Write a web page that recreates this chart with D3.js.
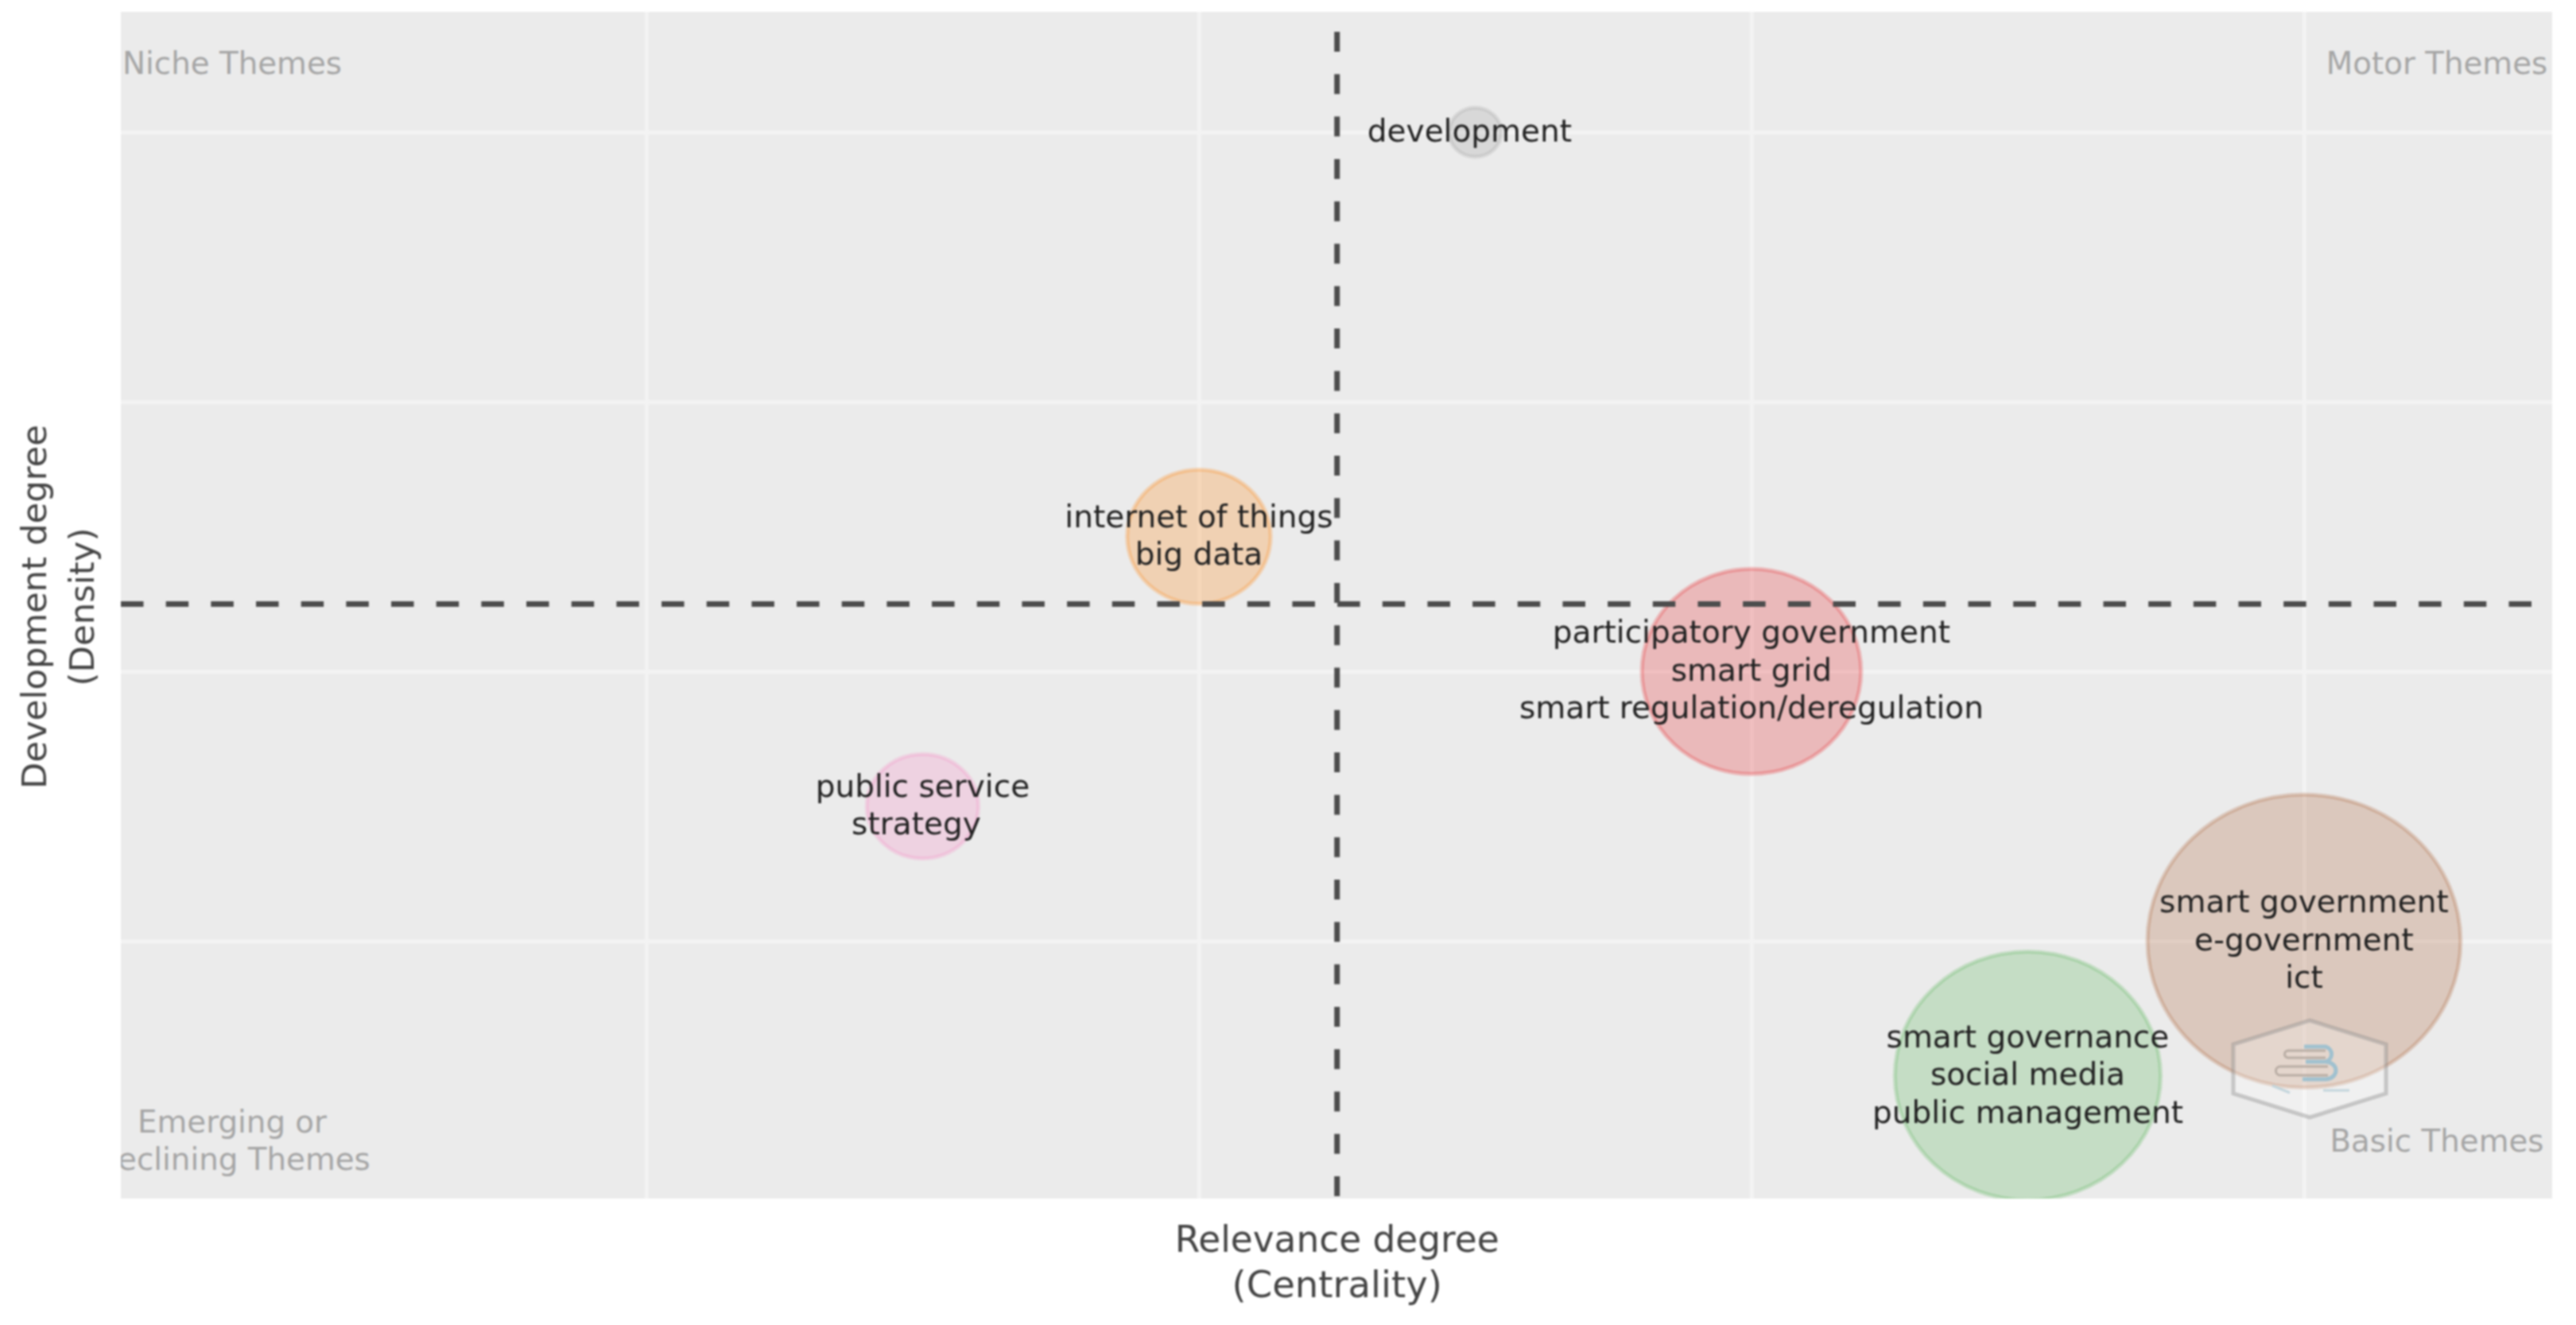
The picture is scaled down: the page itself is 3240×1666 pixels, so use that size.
<!DOCTYPE html>
<html>
<head>
<meta charset="utf-8">
<script src="https://cdn.jsdelivr.net/npm/d3@7"></script>
<style>
  html, body { margin: 0; padding: 0; background: #fff; }
  text { font-family: "DejaVu Sans", sans-serif; }
  svg { filter: blur(1px); }
</style>
</head>
<body>
<div id="chart"></div>
<script>
// cluster ranks
const themes = [
  ['public service', 'strategy'],
  ['internet of things', 'big data'],
  ['development'],
  ['participatory government', 'smart grid', 'smart regulation/deregulation'],
  ['smart governance', 'social media', 'public management'],
  ['smart government', 'e-government', 'ict']
];
const centrality = [1, 2, 3, 4, 5, 6];
const density = [3, 5, 8, 4, 1, 2];
const freq = [12.7, 21, 2.8, 49, 72, 100];
const clusterColors = ['#f781bf', '#ff7f00', '#999999', '#e41a1c', '#4daf4a', '#a65628'];

const xTicks = [0, 2, 4, 6];
const yTicks = [2, 4, 6, 8];
const meanCentrality = 2.5;
const meanDensity = 4.5;

const width = 3240;
const height = 1666;
const plot = { left: 152, right: 3210, top: 15, bottom: 1507 };

const x = d3.scaleLinear().domain([-1.902, 6.898]).range([plot.left, plot.right]);
const y = d3.scaleLinear().domain([0.09, 8.893]).range([plot.bottom, plot.top]);
const r = d3.scaleSqrt().domain([0, 100]).range([0, 197]);

const svg = d3.select('#chart').append('svg')
  .attr('width', width)
  .attr('height', height)
  .style('display', 'block');

const defs = svg.append('defs');
defs.append('clipPath').attr('id', 'plot-clip')
  .append('rect')
  .attr('x', plot.left)
  .attr('y', plot.top)
  .attr('width', plot.right - plot.left)
  .attr('height', plot.bottom - plot.top);
// the source picture is cropped just under the x title
defs.append('clipPath').attr('id', 'page-clip')
  .append('rect')
  .attr('width', width)
  .attr('height', 1642);

svg.append('rect')
  .attr('x', plot.left)
  .attr('y', plot.top)
  .attr('width', plot.right - plot.left)
  .attr('height', plot.bottom - plot.top)
  .attr('fill', '#ebebeb');

const grid = svg.append('g');
const xAxis = d3.axisBottom(x).tickValues(xTicks).tickSize(plot.top - plot.bottom).tickFormat('');
const yAxis = d3.axisLeft(y).tickValues(yTicks).tickSize(plot.left - plot.right).tickFormat('');
grid.append('g').attr('transform', `translate(0,${plot.bottom})`).call(xAxis);
grid.append('g').attr('transform', `translate(${plot.left},0)`).call(yAxis);
grid.selectAll('.domain').remove();
grid.selectAll('line').attr('stroke', '#f3f3f3').attr('stroke-width', 5);

const inner = svg.append('g').attr('clip-path', 'url(#plot-clip)');

// the source image is stretched a little sideways, so bubbles come out as ellipses
inner.append('g').selectAll('ellipse')
  .data(themes)
  .join('ellipse')
  .attr('cx', (d, i) => x(centrality[i]))
  .attr('cy', (d, i) => y(density[i]))
  .attr('rx', (d, i) => r(freq[i]))
  .attr('ry', (d, i) => r(freq[i]) * 0.935)
  .attr('fill', (d, i) => clusterColors[i])
  .attr('fill-opacity', 0.24)
  .attr('stroke', (d, i) => clusterColors[i])
  .attr('stroke-opacity', 0.24)
  .attr('stroke-width', 5);

// watermark
const hex = [[2905, 1283], [3001, 1313], [3001, 1375], [2905, 1405], [2809, 1375], [2809, 1313]];
inner.append('path')
  .attr('d', d3.line()(hex) + 'Z')
  .attr('fill', '#fff')
  .attr('fill-opacity', 0.25)
  .attr('stroke', '#8a8a8a')
  .attr('stroke-opacity', 0.4)
  .attr('stroke-width', 5);
inner.append('path')
  .attr('d', 'M2898 1316H2925A11 10 0 0 1 2925 1335H2900M2925 1335A13 11 0 0 1 2925 1357H2896')
  .attr('fill', 'none').attr('stroke', '#8fbcd0').attr('stroke-opacity', 0.8).attr('stroke-width', 5);
inner.append('path')
  .attr('d', 'M2925 1321H2878A4 4 0 0 0 2878 1330H2925M2928 1341H2868A5 5 0 0 0 2868 1352H2928')
  .attr('fill', 'none').attr('stroke', '#a89c94').attr('stroke-opacity', 0.7).attr('stroke-width', 3);
inner.append('path')
  .attr('d', 'M2858 1365L2880 1374M2922 1371H2955')
  .attr('fill', 'none').attr('stroke', '#c3d5dc').attr('stroke-width', 3);

// quadrant captions
const quadrantLabels = [
  { lines: ['Niche Themes'], cx: 292, cy: 79 },
  { lines: ['Motor Themes'], cx: 3065, cy: 79 },
  { lines: ['Emerging or', 'Declining Themes'], cx: 292, cy: 1434 },
  { lines: ['Basic Themes'], cx: 3065, cy: 1434 }
];
const quadrants = inner.append('g')
  .attr('fill', '#a6a6a6')
  .attr('font-size', 38.8)
  .attr('text-anchor', 'middle');
quadrantLabels.forEach(q => {
  q.lines.forEach((line, k) => {
    quadrants.append('text')
      .attr('x', q.cx)
      .attr('y', q.cy + (k - (q.lines.length - 1) / 2) * 47)
      .attr('dy', '0.35em')
      .text(line);
  });
});

// reference lines at the means
const refs = svg.append('g')
  .attr('stroke', '#4d4d4d')
  .attr('stroke-width', 7);
refs.append('line')
  .attr('x1', x(meanCentrality)).attr('x2', x(meanCentrality))
  .attr('y1', 40).attr('y2', plot.bottom)
  .attr('stroke-dasharray', '25,28.3');
refs.append('line')
  .attr('x1', plot.left).attr('x2', plot.right)
  .attr('y1', y(meanDensity)).attr('y2', y(meanDensity))
  .attr('stroke-dasharray', '28.5,28.17');

// cluster labels, a couple of lines sit slightly off centre in the source
const labelNudge = { strategy: -8, development: -7 };
const labels = svg.append('g')
  .attr('fill', '#222')
  .attr('font-size', 39)
  .attr('text-anchor', 'middle');
themes.forEach((lines, i) => {
  lines.forEach((line, k) => {
    labels.append('text')
      .attr('x', x(centrality[i]) + (labelNudge[line] || 0))
      .attr('y', y(density[i]) + (k - (lines.length - 1) / 2) * 47.5 - 2)
      .attr('dy', '0.35em')
      .text(line);
  });
});

// axis titles
const titles = svg.append('g')
  .attr('clip-path', 'url(#page-clip)')
  .attr('fill', '#444')
  .attr('text-anchor', 'middle');
titles.append('text').attr('x', x(meanCentrality)).attr('y', 1558).attr('dy', '0.35em').attr('font-size', 45.4).text('Relevance degree');
titles.append('text').attr('x', x(meanCentrality)).attr('y', 1615).attr('dy', '0.35em').attr('font-size', 46.5).text('(Centrality)');
titles.append('text').attr('transform', 'translate(43,763) rotate(-90)').attr('dy', '0.35em').attr('font-size', 43.4).text('Development degree');
titles.append('text').attr('transform', 'translate(103,763) rotate(-90)').attr('dy', '0.35em').attr('font-size', 43.4).text('(Density)');
</script>
</body>
</html>
